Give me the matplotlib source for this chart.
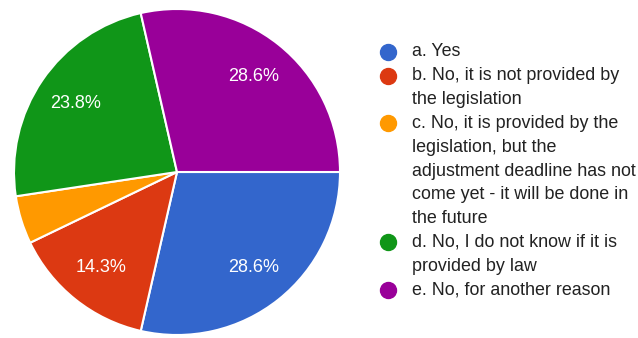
import matplotlib.pyplot as plt

plt.rcParams['font.family'] = ['Liberation Sans', 'DejaVu Sans']

# answers to the survey question (out of 21 responses)
labels = ["a. Yes",
          "b. No, it is not provided by\nthe legislation",
          "c. No, it is provided by the\nlegislation, but the\nadjustment deadline has not\ncome yet - it will be done in\nthe future",
          "d. No, I do not know if it is\nprovided by law",
          "e. No, for another reason"]
counts = [6, 3, 1, 5, 6]
colors = ["#3366cc", "#dc3912", "#ff9900", "#109618", "#990099"]

W, H = 638, 338
fig = plt.figure(figsize=(W / 100, H / 100), dpi=100)

# pie: center at (177,172) px, radius 163 px
cx, cy, r = 177, 172, 163
ax = fig.add_axes([(cx - r) / W, (H - cy - r) / H, 2 * r / W, 2 * r / H])

def pct_label(p):
    return "%.1f%%" % p if p > 5 else ""

wedges, texts, autotexts = ax.pie(counts, colors=colors, startangle=0, counterclock=False,
                                  autopct=pct_label, pctdistance=0.75,
                                  wedgeprops=dict(edgecolor="white", linewidth=1.5))
for t in autotexts:
    t.set_color("white")
    t.set_fontsize(13)
ax.set_xlim(-1, 1)
ax.set_ylim(-1, 1)
ax.set_aspect("equal")

# legend drawn in pixel coordinates
lax = fig.add_axes([0, 0, 1, 1])
lax.set_xlim(0, W)
lax.set_ylim(H, 0)
lax.axis("off")
y0, step = 52, 23.8
line = 0
for lab, col in zip(labels, colors):
    lax.plot(388, y0 + line * step, "o", color=col, markersize=11.5)
    for part in lab.split("\n"):
        lax.text(412, y0 + line * step, part, fontsize=12.9, color="#222222", va="center", ha="left")
        line += 1

fig.savefig("out.png", dpi=100, facecolor="white")
